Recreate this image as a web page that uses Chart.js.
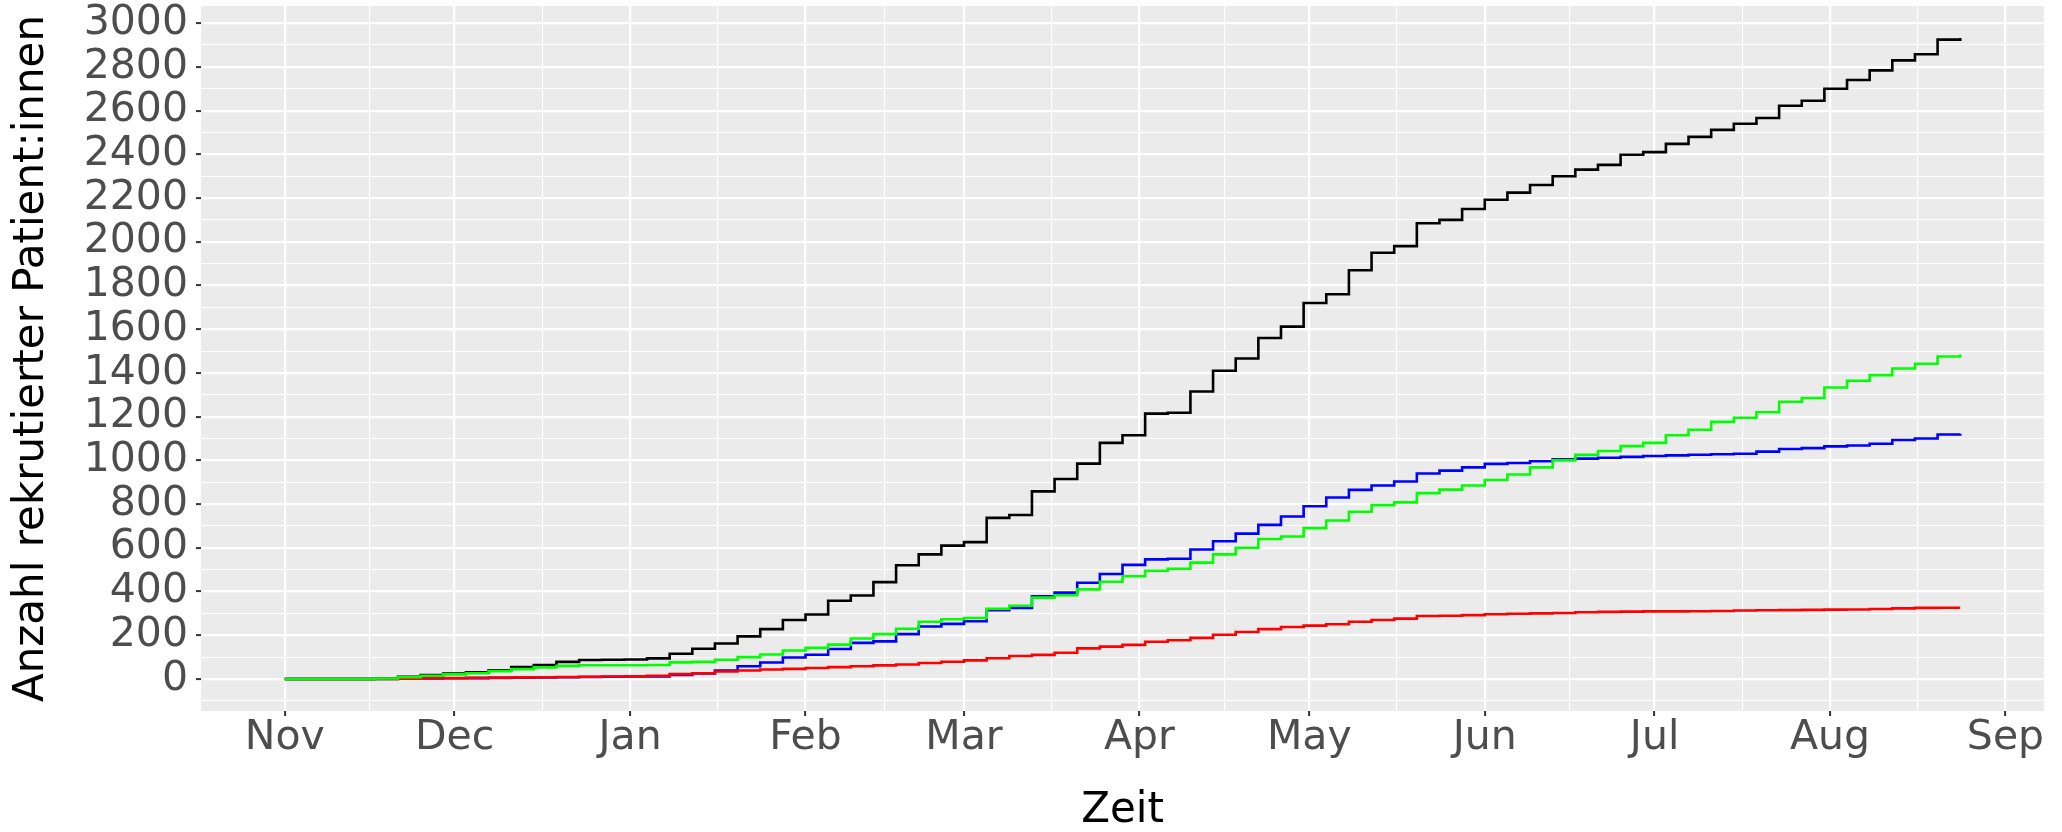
<!DOCTYPE html>
<html>
<head>
<meta charset="utf-8">
<script src="https://cdn.jsdelivr.net/npm/chart.js@4.4.1/dist/chart.umd.min.js"></script>
<style>
  html, body { margin: 0; padding: 0; background: #ffffff; }
  #wrap { width: 2062px; height: 832px; }
</style>
</head>
<body>
<div id="wrap"><canvas id="chart" width="2062" height="832"></canvas></div>
<script>
// days counted from 1 Nov (day 0), one reading every 4 days
const dayOffsets = [0, 4, 8, 12, 16, 20, 24, 28, 32, 36, 40, 44, 48, 52, 56, 60, 64, 68, 72, 76,
  80, 84, 88, 92, 96, 100, 104, 108, 112, 116, 120, 124, 128, 132, 136, 140, 144, 148, 152, 156,
  160, 164, 168, 172, 176, 180, 184, 188, 192, 196, 200, 204, 208, 212, 216, 220, 224, 228, 232, 236,
  240, 244, 248, 252, 256, 260, 264, 268, 272, 276, 280, 284, 288, 292, 296];

// cumulative recruited patients (black = all)
const totalValues = [0, 0, 0, 0, 2, 10, 18, 25, 30, 40, 55, 64, 78, 87, 88, 89, 94, 115, 138, 162,
  195, 228, 270, 295, 358, 382, 443, 520, 570, 610, 626, 737, 750, 858, 915, 985, 1080, 1115, 1214, 1218,
  1315, 1410, 1466, 1560, 1612, 1720, 1760, 1870, 1950, 1980, 2085, 2100, 2150, 2192, 2225, 2260, 2300, 2330, 2352, 2398,
  2410, 2448, 2480, 2512, 2540, 2566, 2622, 2645, 2700, 2740, 2784, 2830, 2858, 2925, 2932];
const greenValues = [0, 0, 0, 0, 2, 8, 15, 21, 26, 36, 45, 53, 60, 63, 63, 63, 64, 76, 78, 88,
  100, 112, 130, 142, 157, 185, 205, 230, 262, 273, 279, 321, 335, 372, 383, 410, 445, 470, 495, 504,
  532, 570, 600, 640, 652, 690, 725, 765, 795, 808, 850, 866, 885, 910, 935, 968, 1000, 1025, 1043, 1065,
  1080, 1115, 1140, 1176, 1195, 1220, 1268, 1285, 1333, 1364, 1390, 1420, 1442, 1475, 1484];
const blueValues = [0, 0, 0, 0, 0, 1, 2, 3, 4, 5, 6, 7, 8, 9, 10, 11, 12, 18, 25, 38,
  58, 75, 98, 111, 137, 165, 172, 205, 240, 252, 264, 315, 325, 378, 395, 440, 480, 522, 547, 550,
  592, 630, 665, 705, 743, 790, 830, 865, 885, 903, 940, 953, 968, 984, 988, 996, 1005, 1008, 1012, 1016,
  1020, 1023, 1026, 1028, 1030, 1040, 1052, 1056, 1064, 1068, 1076, 1093, 1100, 1118, 1122];
const redValues = [0, 0, 0, 0, 0, 1, 3, 4, 5, 6, 7, 8, 9, 10, 11, 12, 14, 22, 26, 34,
  39, 43, 46, 50, 54, 58, 62, 66, 73, 79, 85, 95, 105, 110, 120, 140, 148, 156, 170, 177,
  188, 202, 215, 228, 238, 244, 250, 262, 270, 276, 288, 289, 292, 296, 298, 300, 302, 305, 307, 308,
  309, 309, 310, 311, 313, 314, 315, 316, 317, 318, 320, 323, 325, 326, 326];

// x axis: month starts (labelled) and the mid points between them (minor grid)
const monthLabels = ['Nov', 'Dec', 'Jan', 'Feb', 'Mar', 'Apr', 'May', 'Jun', 'Jul', 'Aug', 'Sep'];
const monthStartDays = [0, 30, 61, 92, 120, 151, 181, 212, 242, 273, 304];
const midMonthDays = [15, 45.5, 76.5, 106, 135.5, 166, 196.5, 227, 257.5, 288.5];

const fontFamily = "'DejaVu Sans', sans-serif";

// ggplot style limits: 5% expansion on both sides
const lastDay = dayOffsets[dayOffsets.length - 1];
const xMin = -0.05 * lastDay;
const xMax = lastDay * 1.05;
const yTop = Math.max(...totalValues);
const yMin = -0.05 * yTop;
const yMax = yTop * 1.05;

const yGrid = [];
for (let v = -100; v <= 3000; v += 100) yGrid.push(v);
const xGrid = monthStartDays.concat(midMonthDays).sort((a, b) => a - b);

function series(values, colour) {
  return {
    data: dayOffsets.map((d, i) => ({ x: d, y: values[i] })),
    borderColor: colour,
    borderWidth: 2.6,
    stepped: true,
    pointRadius: 0,
    borderJoinStyle: 'miter',
    fill: false
  };
}

// panel background (grey like ggplot)
const panelBg = {
  id: 'panelBg',
  beforeDraw(chart) {
    const a = chart.chartArea;
    const ctx = chart.ctx;
    ctx.save();
    ctx.fillStyle = '#EBEBEB';
    ctx.fillRect(a.left, a.top, a.right - a.left, a.bottom - a.top);
    ctx.restore();
  }
};

const isMajorX = v => monthStartDays.includes(v);
const isMajorY = v => v % 200 === 0;

new Chart(document.getElementById('chart'), {
  type: 'line',
  data: {
    // first dataset is painted on top
    datasets: [
      series(greenValues, '#00FF00'),
      series(redValues, '#FF0000'),
      series(blueValues, '#0000FF'),
      series(totalValues, '#000000')
    ]
  },
  options: {
    responsive: false,
    devicePixelRatio: 1,
    animation: false,
    layout: { padding: { top: 6, right: 18, left: 0, bottom: 0 } },
    plugins: { legend: { display: false }, tooltip: { enabled: false } },
    scales: {
      x: {
        type: 'linear',
        bounds: 'data',
        min: xMin,
        max: xMax,
        afterBuildTicks: s => { s.ticks = xGrid.map(v => ({ value: v })); },
        afterFit: s => { s.height = 121; s.paddingLeft = 0; s.paddingRight = 0; },
        border: { display: false },
        grid: {
          color: '#FFFFFF',
          lineWidth: c => isMajorX(c.tick.value) ? 2.2 : 1.1,
          tickColor: c => isMajorX(c.tick.value) ? '#333333' : 'rgba(0,0,0,0)',
          tickWidth: 2,
          tickLength: 5
        },
        ticks: {
          autoSkip: false,
          maxRotation: 0,
          minRotation: 0,
          padding: 2,
          color: '#4D4D4D',
          font: { family: fontFamily, size: 41, lineHeight: 1 },
          callback: v => {
            const i = monthStartDays.indexOf(v);
            return i >= 0 ? monthLabels[i] : '';
          }
        },
        title: {
          display: true,
          text: 'Zeit',
          color: '#000000',
          font: { family: fontFamily, size: 42, lineHeight: 1 },
          padding: { top: 0, bottom: 0 }
        }
      },
      y: {
        type: 'linear',
        bounds: 'data',
        min: yMin,
        max: yMax,
        afterBuildTicks: s => { s.ticks = yGrid.map(v => ({ value: v })); },
        afterFit: s => { s.width = 201; s.paddingTop = 0; s.paddingBottom = 0; },
        border: { display: false },
        grid: {
          color: '#FFFFFF',
          lineWidth: c => isMajorY(c.tick.value) ? 2.2 : 1.1,
          tickColor: c => isMajorY(c.tick.value) ? '#333333' : 'rgba(0,0,0,0)',
          tickWidth: 2,
          tickLength: 5
        },
        ticks: {
          autoSkip: false,
          padding: 8,
          color: '#4D4D4D',
          font: { family: fontFamily, size: 41, lineHeight: 1 },
          callback: v => isMajorY(v) ? String(v) : ''
        },
        title: {
          display: true,
          text: 'Anzahl rekrutierter Patient:innen',
          color: '#000000',
          font: { family: fontFamily, size: 42, lineHeight: 1 },
          padding: { top: 11, bottom: 0 }
        }
      }
    }
  },
  plugins: [panelBg]
});
</script>
</body>
</html>
